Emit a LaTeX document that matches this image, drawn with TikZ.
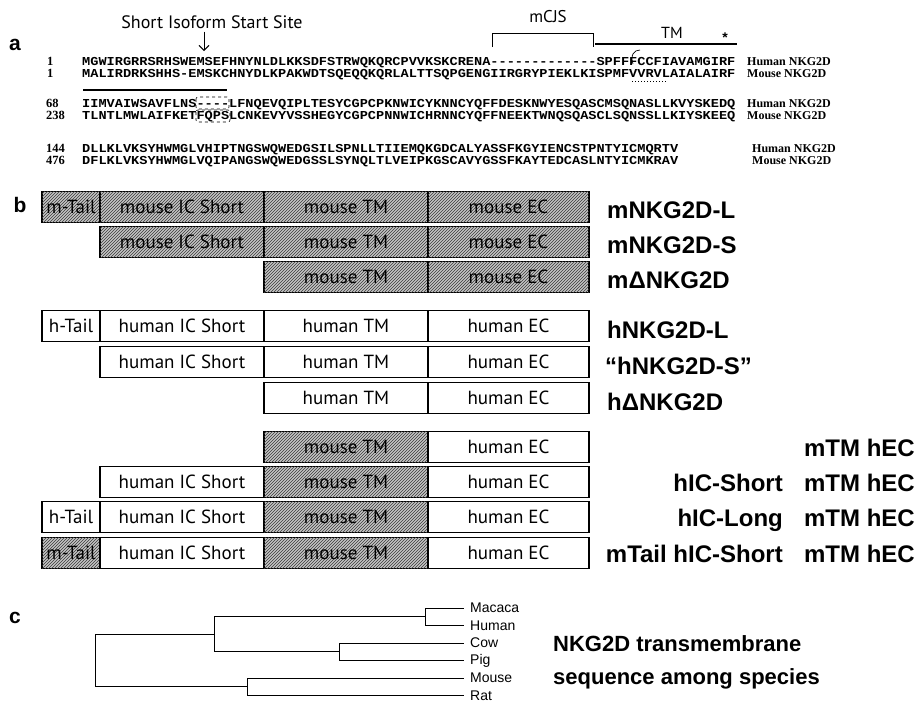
\documentclass[tikz,border=0pt]{standalone}
\usepackage{fontspec}
\setmainfont{Liberation Sans}
\newfontfamily\boxfont{PT Sans}
\newfontfamily\seqfont[FakeStretch=1.12]{Liberation Mono}
\newfontfamily\numfont{Liberation Serif}
\usetikzlibrary{arrows.meta,patterns}
\definecolor{HatchFill}{HTML}{C4C4C4}
\definecolor{HatchLine}{HTML}{3A3A3A}

\begin{document}
\begin{tikzpicture}[x=1pt,y=-1pt,>={Straight Barb[length=5pt]},
  part/.style={draw,line width=1.1pt,inner sep=0pt,minimum height=31pt,
    font=\boxfont\fontsize{19}{20}\selectfont},
  mpart/.style={part,fill=HatchFill,postaction={pattern=north east lines,pattern color=HatchLine}},
  hpart/.style={part,fill=white},
  tail/.style={minimum width=58pt},
  ic/.style={minimum width=164pt},
  tm/.style={minimum width=164pt},
  ec/.style={minimum width=161pt},
  tag/.style={inner sep=0pt,font=\bfseries\fontsize{24}{26}\selectfont},
  seq/.style={anchor=base west,inner sep=0pt,font=\seqfont\bfseries\fontsize{12.15}{12}\selectfont},
  num/.style={anchor=base west,inner sep=0pt,font=\numfont\bfseries\fontsize{12.5}{13}\selectfont},
  spc/.style={anchor=base west,inner sep=0pt,font=\numfont\bfseries\fontsize{12}{13}\selectfont},
  leaf/.style={anchor=west,inner sep=0pt,inner xsep=6pt,font=\fontsize{14}{15}\selectfont},
  panel/.style={inner sep=0pt,font=\bfseries\fontsize{21}{22}\selectfont}]
  \useasboundingbox (0,0) rectangle (920,716);

  % a: sequence alignment
  \node[panel] (pa) at (15,45) {a};
  \node[inner sep=0pt,font=\boxfont\fontsize{18}{20}\selectfont] (site) at (212,22) {Short Isoform Start Site};
  \coordinate (sitept) at (204,51);
  \draw[->,line width=0.9pt] (site.south -| sitept) ++(0,3) -- (sitept);
  \node[inner sep=0pt,font=\boxfont\fontsize{17}{18}\selectfont] (mcjs) at (548,17) {mCJS};
  \draw[line width=1pt] (492,47) -- (492,33) -- (593,33) -- (593,47);
  \node[inner sep=0pt,font=\boxfont\fontsize{16}{18}\selectfont] (tm) at (672,33) {TM};
  \node[inner sep=0pt,font=\bfseries\fontsize{14}{14}\selectfont] (star) at (725,38) {*};
  \draw[line width=1.3pt] (595,44) -- (737,44);
  \draw[line width=1.3pt] (83,90) -- (227,90);

  \node[num] (n1) at (47,65) {1};
  \node[seq] (h1) at (82,65) {MGWIRGRRSRHSWEMSEFHNYNLDLKKSDFSTRWQKQRCPVVKSKCRENA-------------SPFFFCCFIAVAMGIRF};
  \node[spc] (s1) at (747,65) {Human NKG2D};
  \node[num] (n2) at (47,77) {1};
  \node[seq] (m1) at (82,77) {MALIRDRKSHHS-EMSKCHNYDLKPAKWDTSQEQQKQRLALTTSQPGENGIIRGRYPIEKLKISPMFVVRVLAIALAIRF};
  \node[spc] (s2) at (747,77) {Mouse NKG2D};
  \draw[line width=0.7pt] (633,64) .. controls (630,55) and (634,50) .. (640,50);
  \draw[dotted,line width=1pt] (632,81) -- (666,81);

  \node[num] (n3) at (46,107) {68};
  \node[seq] (h2) at (82,107) {IIMVAIWSAVFLNS----LFNQEVQIPLTESYCGPCPKNWICYKNNCYQFFDESKNWYESQASCMSQNASLLKVYSKEDQ};
  \node[spc] (s3) at (747,107) {Human NKG2D};
  \node[num] (n4) at (46,119) {238};
  \node[seq] (m2) at (82,119) {TLNTLMWLAIFKETFQPSLCNKEVYVSSHEGYCGPCPNNWICHRNNCYQFFNEEKTWNQSQASCLSQNSSLLKIYSKEEQ};
  \node[spc] (s4) at (747,119) {Mouse NKG2D};
  \draw[dashed,line width=0.6pt,rounded corners=2pt] (196,97) rectangle (229,109);
  \draw[dashed,line width=0.6pt,rounded corners=2pt] (196,110) rectangle (230,122);

  \node[num] (n5) at (46,152) {144};
  \node[seq] (h3) at (82,152) {DLLKLVKSYHWMGLVHIPTNGSWQWEDGSILSPNLLTIIEMQKGDCALYASSFKGYIENCSTPNTYICMQRTV};
  \node[spc] (s5) at (752,152) {Human NKG2D};
  \node[num] (n6) at (46,164) {476};
  \node[seq] (m3) at (82,164) {DFLKLVKSYHWMGLVQIPANGSWQWEDGSSLSYNQLTLVEIPKGSCAVYGSSFKAYTEDCASLNTYICMKRAV};
  \node[spc] (s6) at (752,164) {Mouse NKG2D};

  % b: constructs
  \node[panel] (pb) at (20,205) {b};
  \node[mpart,tail] (r1tail) at (71,207) {m-Tail};
  \node[mpart,ic] (r1ic) at (182,207) {mouse IC Short};
  \node[mpart,tm] (r1tm) at (346,207) {mouse TM};
  \node[mpart,ec] (r1ec) at (508.5,207) {mouse EC};
  \node[tag,anchor=west] (r1tag) at (607,210) {mNKG2D-L};

  \node[mpart,ic] (r2ic) at (182,242) {mouse IC Short};
  \node[mpart,tm] (r2tm) at (346,242) {mouse TM};
  \node[mpart,ec] (r2ec) at (508.5,242) {mouse EC};
  \node[tag,anchor=west] (r2tag) at (607,245) {mNKG2D-S};

  \node[mpart,tm] (r3tm) at (346,277) {mouse TM};
  \node[mpart,ec] (r3ec) at (508.5,277) {mouse EC};
  \node[tag,anchor=west] (r3tag) at (607,280) {mΔNKG2D};

  \node[hpart,tail] (r4tail) at (71,326) {h-Tail};
  \node[hpart,ic] (r4ic) at (182,326) {human IC Short};
  \node[hpart,tm] (r4tm) at (346,326) {human TM};
  \node[hpart,ec] (r4ec) at (508.5,326) {human EC};
  \node[tag,anchor=west] (r4tag) at (607,330) {hNKG2D-L};

  \node[hpart,ic] (r5ic) at (182,362) {human IC Short};
  \node[hpart,tm] (r5tm) at (346,362) {human TM};
  \node[hpart,ec] (r5ec) at (508.5,362) {human EC};
  \node[tag,anchor=west] (r5tag) at (605,366) {“hNKG2D-S”};

  \node[hpart,tm] (r6tm) at (346,398) {human TM};
  \node[hpart,ec] (r6ec) at (508.5,398) {human EC};
  \node[tag,anchor=west] (r6tag) at (607,402) {hΔNKG2D};

  \node[mpart,tm] (r7tm) at (346,447) {mouse TM};
  \node[hpart,ec] (r7ec) at (508.5,447) {human EC};
  \node[tag,anchor=east] (r7tag) at (915,448) {mTM hEC};

  \node[hpart,ic] (r8ic) at (182,482) {human IC Short};
  \node[mpart,tm] (r8tm) at (346,482) {mouse TM};
  \node[hpart,ec] (r8ec) at (508.5,482) {human EC};
  \node[tag,anchor=east] (r8tag) at (915,483) {mTM hEC};
  \node[tag,anchor=base east] (r8pre) at (r8tag.base -| 783,0) {hIC-Short};

  \node[hpart,tail] (r9tail) at (71,517) {h-Tail};
  \node[hpart,ic] (r9ic) at (182,517) {human IC Short};
  \node[mpart,tm] (r9tm) at (346,517) {mouse TM};
  \node[hpart,ec] (r9ec) at (508.5,517) {human EC};
  \node[tag,anchor=east] (r9tag) at (915,518) {mTM hEC};
  \node[tag,anchor=base east] (r9pre) at (r9tag.base -| 783,0) {hIC-Long};

  \node[mpart,tail] (r10tail) at (71,553) {m-Tail};
  \node[hpart,ic] (r10ic) at (182,553) {human IC Short};
  \node[mpart,tm] (r10tm) at (346,553) {mouse TM};
  \node[hpart,ec] (r10ec) at (508.5,553) {human EC};
  \node[tag,anchor=east] (r10tag) at (915,554) {mTM hEC};
  \node[tag,anchor=base east] (r10pre) at (r10tag.base -| 783,0) {mTail hIC-Short};

  % c: tree
  \node[panel] (pc) at (15,618) {c};
  \node[leaf] (macaca) at (464,608) {Macaca};
  \node[leaf] (human) at (464,625.5) {Human};
  \node[leaf] (cow) at (464,643) {Cow};
  \node[leaf] (pig) at (464,660.5) {Pig};
  \node[leaf] (mouse) at (464,678) {Mouse};
  \node[leaf] (rat) at (464,695.5) {Rat};
  \coordinate (mh) at (425,616.75);
  \coordinate (cp) at (339,651.75);
  \coordinate (up) at (214,634.25);
  \coordinate (mr) at (247,686.75);
  \coordinate (root) at (95,660.5);
  \begin{scope}[line width=0.9pt]
    \draw (mh) |- (macaca.west);
    \draw (mh) |- (human.west);
    \draw (cp) |- (cow.west);
    \draw (cp) |- (pig.west);
    \draw (mr) |- (mouse.west);
    \draw (mr) |- (rat.west);
    \draw (up) |- (mh);
    \draw (up) |- (cp);
    \draw (root) |- (up);
    \draw (root) |- (mr);
  \end{scope}
  \node[inner sep=0pt,anchor=base west,font=\bfseries\fontsize{22}{24}\selectfont] (tmnote) at (553,651) {NKG2D transmembrane};
  \node[inner sep=0pt,anchor=base west,font=\bfseries\fontsize{22}{24}\selectfont] (spnote) at (553,684) {sequence among species};
\end{tikzpicture}
\end{document}
